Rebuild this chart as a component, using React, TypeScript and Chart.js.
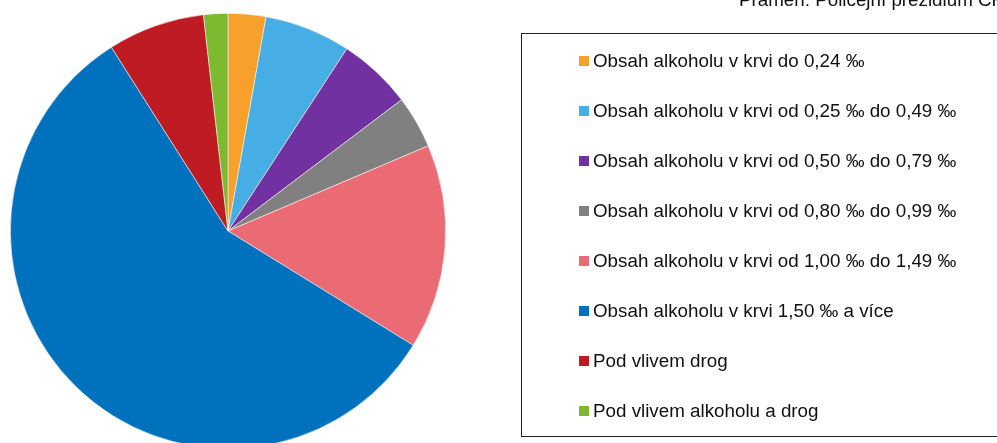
import React, { useEffect, useRef } from "react";
import { Chart, registerables } from "chart.js";

Chart.register(...registerables);

const categories: string[] = [
  "Obsah alkoholu v krvi do 0,24 ‰",
  "Obsah alkoholu v krvi od 0,25 ‰ do 0,49 ‰",
  "Obsah alkoholu v krvi od 0,50 ‰ do 0,79 ‰",
  "Obsah alkoholu v krvi od 0,80 ‰ do 0,99 ‰",
  "Obsah alkoholu v krvi od 1,00 ‰ do 1,49 ‰",
  "Obsah alkoholu v krvi 1,50 ‰ a více",
  "Pod vlivem drog",
  "Pod vlivem alkoholu a drog",
];

const shares: number[] = [2.8, 6.4, 5.5, 3.9, 15.2, 57.2, 7.2, 1.8];

const sliceColors: string[] = [
  "#F7A02B",
  "#47ADE5",
  "#7131A0",
  "#808080",
  "#EA6B73",
  "#0071BC",
  "#BE1B22",
  "#7DBA2F",
];

const sourceText = "Pramen: Policejní prezidium ČR";

const W = 997;
const H = 460;

const legendPlugin = {
  id: "customLegend",
  afterDraw(chart: any) {
    const ctx = chart.ctx as CanvasRenderingContext2D;
    ctx.save();
    ctx.fillStyle = "#111";
    ctx.font = '18.8px "Liberation Sans", Arial, sans-serif';
    ctx.textBaseline = "alphabetic";
    ctx.textAlign = "left";
    ctx.fillText(sourceText, 739, 6);
    ctx.strokeStyle = "#222";
    ctx.lineWidth = 1;
    ctx.strokeRect(521.5, 33.5, 500, 403);
    const labels: string[] = chart.data.labels;
    const colors: string[] = chart.data.datasets[0].backgroundColor;
    labels.forEach((lab, i) => {
      const cy = 61 + i * 50;
      ctx.fillStyle = colors[i];
      ctx.fillRect(579, cy - 5, 10, 10);
      ctx.fillStyle = "#111";
      ctx.textBaseline = "middle";
      ctx.fillText(lab, 593, cy + 1);
    });
    ctx.restore();
  },
};

export default function App() {
  const ref = useRef<HTMLCanvasElement | null>(null);
  useEffect(() => {
    if (!ref.current) return;
    const chart = new Chart(ref.current, {
      type: "pie",
      data: {
        labels: categories,
        datasets: [
          {
            data: shares,
            backgroundColor: sliceColors,
            borderColor: "rgba(255,255,255,0.7)",
            borderWidth: 0.75,
          },
        ],
      },
      options: {
        responsive: false,
        animation: false,
        layout: { padding: { left: 10, top: 13, right: W - 446, bottom: H - 449 } },
        plugins: {
          legend: { display: false },
          tooltip: { enabled: false },
          title: { display: false },
        },
      },
      plugins: [legendPlugin],
    });
    return () => chart.destroy();
  }, []);
  return (
    <div
      style={{
        position: "fixed",
        left: 0,
        top: 0,
        width: 997,
        height: 443,
        overflow: "hidden",
        background: "#fff",
      }}
    >
      <canvas ref={ref} width={W} height={H} style={{ display: "block", width: W, height: H }} />
    </div>
  );
}
